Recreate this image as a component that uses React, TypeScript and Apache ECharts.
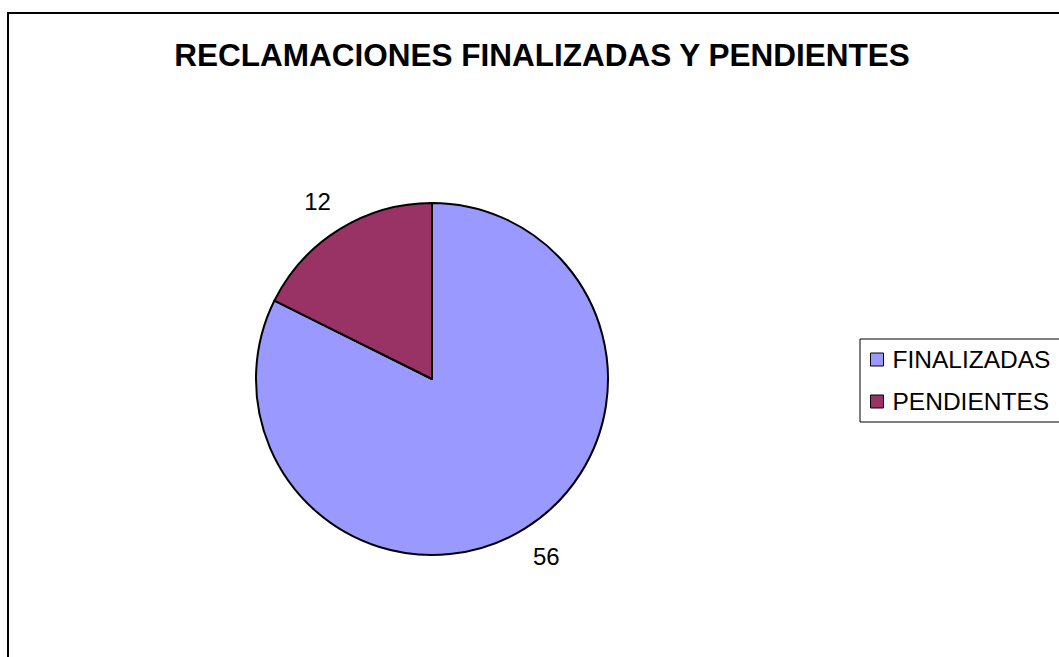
import React, { useEffect, useRef } from "react";
import * as echarts from "echarts";

const titleText = "RECLAMACIONES FINALIZADAS Y PENDIENTES";
const categories = ["FINALIZADAS", "PENDIENTES"];
const values = [56, 12];
const colors = ["#9999FF", "#993366"];

export default function App() {
  const ref = useRef<HTMLDivElement>(null);
  useEffect(() => {
    if (!ref.current) return;
    const chart = echarts.init(ref.current, null, { renderer: "svg" });
    const font = "Arial, 'Liberation Sans', sans-serif";
    chart.setOption({
      animation: false,
      backgroundColor: "#ffffff",
      title: {
        text: titleText,
        left: 537,
        top: 34,
        textAlign: "center",
        textStyle: { fontFamily: font, fontSize: 31.5, fontWeight: "bold", color: "#000" },
      },
      graphic: [
        {
          type: "rect",
          shape: { x: 8, y: 13, width: 1200, height: 800 },
          style: { fill: "none", stroke: "#000", lineWidth: 2 },
          silent: true,
        },
      ],
      legend: {
        orient: "vertical",
        left: 860,
        top: 339,
        padding: [8, 30, 8, 10],
        itemGap: 17,
        itemWidth: 13,
        itemHeight: 13,
        icon: "rect",
        borderColor: "#000",
        borderWidth: 1,
        textStyle: { fontFamily: font, fontSize: 24.5, color: "#000", padding: [0, 0, 0, 4] },
        itemStyle: { borderColor: "#000", borderWidth: 1 },
        data: categories,
      },
      series: [
        {
          type: "pie",
          center: [432, 379],
          radius: 176,
          startAngle: 90,
          clockwise: true,
          avoidLabelOverlap: false,
          data: categories.map((name, i) => ({
            name,
            value: values[i],
            itemStyle: { color: colors[i] },
          })),
          itemStyle: { borderColor: "#000", borderWidth: 2 },
          label: {
            show: true,
            position: "outside",
            formatter: "{c}",
            fontFamily: font,
            fontSize: 24,
            color: "#000",
            distanceToLabelLine: -9,
          },
          labelLine: { show: false, length: 33, length2: 0 },
          emphasis: { disabled: true },
        },
      ],
    });
    return () => chart.dispose();
  }, []);
  return (
    <div
      ref={ref}
      style={{ position: "fixed", left: 0, top: 0, width: 1059, height: 657 }}
    />
  );
}
